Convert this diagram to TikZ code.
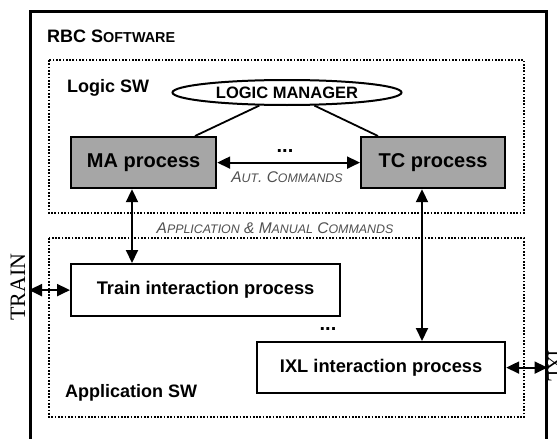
\documentclass[tikz,border=0pt]{standalone}
\usepackage{fontspec}
\setmainfont{Liberation Sans}
\newfontfamily\seriffam{Liberation Serif}
\usetikzlibrary{arrows.meta,shapes.geometric}
\definecolor{procgray}{RGB}{166,166,166}
\definecolor{cmdgray}{RGB}{80,80,80}
\begin{document}
\begin{tikzpicture}[x=1pt,y=-1pt,
  box/.style={draw,line width=2.2pt,inner sep=0pt,anchor=north west,fill=white,
    font=\bfseries\fontsize{18.3}{20}\selectfont},
  graybox/.style={box,fill=procgray,font=\bfseries\fontsize{20}{22}\selectfont},
  dotbox/.style={line width=2pt,dash pattern=on 1.7pt off 1.6pt},
  conn/.style={line width=2pt,{Triangle[length=13pt,width=12pt]}-{Triangle[length=13pt,width=12pt]}},
  plain/.style={line width=1.8pt},
  lbl/.style={inner sep=0pt,font=\bfseries\fontsize{18}{20}\selectfont},
  cmd/.style={inner sep=0pt,text=cmdgray,font=\itshape\fontsize{15.5}{17}\selectfont},
  side/.style={inner sep=0pt,font=\seriffam\fontsize{22}{24}\selectfont}]
\useasboundingbox (0,0) rectangle (557,439);
\fill[white] (0,0) rectangle (557,439);

% outer RBC box (bottom edge lies below the picture)
\node[draw,line width=2.5pt,inner sep=0pt,anchor=north west,minimum width=516pt,minimum height=460pt] (rbc) at (29,10) {};
\node[lbl,anchor=base west] (rbctitle) at (47,42) {RBC S{\fontsize{14.4}{16}\selectfont OFTWARE}};

% dotted containers
\draw[dotbox] (49,60) rectangle (524,213);
\draw[dotbox] (49,238) rectangle (524,417);
\node[lbl,anchor=base west] (logicsw) at (67,92) {Logic SW};
\node[lbl,anchor=base west] (appsw) at (65,397) {Application SW};

% logic part
\node[draw,ellipse,line width=2pt,fill=white,inner sep=0pt,minimum width=229pt,minimum height=25pt,
  font=\bfseries\fontsize{16.5}{18}\selectfont] (lm) at (287,92.5) {LOGIC MANAGER};
\node[graybox,minimum width=145pt,minimum height=51pt] (ma) at (70,136) {MA process};
\node[graybox,minimum width=144pt,minimum height=51pt] (tc) at (360,136) {TC process};

\coordinate (xl) at (195,0);
\coordinate (xr) at (378,0);
\draw[plain] (ma.north -| xl) -- (lm);
\draw[plain] (tc.north -| xr) -- (lm);

\draw[conn] (ma.east) -- (tc.west);
\node[lbl,anchor=base,font=\bfseries\fontsize{20}{22}\selectfont] (dots1) at (285,152) {...};
\node[cmd,anchor=base] (aut) at (287,182) {A{\fontsize{12.4}{14}\selectfont UT}. C{\fontsize{12.4}{14}\selectfont OMMANDS}};

% application part
\node[box,minimum width=269pt,minimum height=52pt] (train) at (70,263) {Train interaction process};
\node[box,minimum width=248pt,minimum height=51pt] (ixl) at (256,341) {IXL interaction process};
\node[lbl,anchor=base,font=\bfseries\fontsize{20}{22}\selectfont] (dots2) at (328,330) {...};

\node[cmd,anchor=base] (appcmd) at (275,233) {A{\fontsize{12.4}{14}\selectfont PPLICATION} \& M{\fontsize{12.4}{14}\selectfont ANUAL} C{\fontsize{12.4}{14}\selectfont OMMANDS}};

\coordinate (xa) at (132,0);
\coordinate (xb) at (422,0);
\draw[conn] (ma.south -| xa) -- (train.north -| xa);
\draw[conn] (tc.south -| xb) -- (ixl.north -| xb);

% external interfaces
\draw[conn] (train.west -| rbc.west) -- (train.west);
\draw[conn] (ixl.east) -- (ixl.east -| rbc.east);
\node[side,rotate=90,anchor=base] (trainlbl) at (25,287) {TRAIN};
\node[side,rotate=-90,anchor=base,font=\seriffam\fontsize{19}{21}\selectfont] (ixllbl) at (548,366) {IXL};
\end{tikzpicture}
\end{document}
